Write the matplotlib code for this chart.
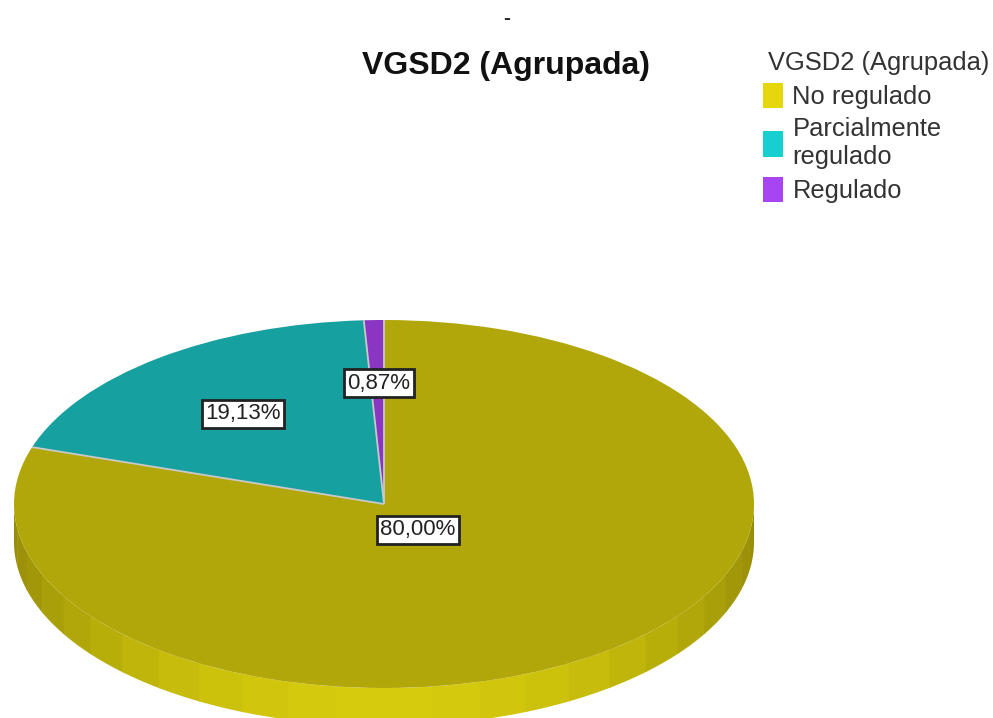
import numpy as np
import matplotlib
matplotlib.use('Agg')
import matplotlib.pyplot as plt
from matplotlib.patches import Patch

plt.rcParams['font.family'] = ['Liberation Sans', 'DejaVu Sans']

# data
title = 'VGSD2 (Agrupada)'
categories = ['No regulado', 'Parcialmente\nregulado', 'Regulado']
values = [80.00, 19.13, 0.87]
value_labels = ['80,00%', '19,13%', '0,87%']
top_colors = ['#b2a70a', '#17a0a0', '#8b36c2']
legend_colors = ['#e6d60c', '#18cfcf', '#a845f2']

W, H = 993, 718
cx, cy, rx, ry = 384, 504, 370, 184
depth = 38 / ry

fig = plt.figure(figsize=(W / 100, H / 100), dpi=100)
ax = fig.add_axes([0, 0, 1, 1])

# pie, squashed to look tilted
wedges, _ = ax.pie(values, startangle=90, counterclock=False, colors=top_colors,
                   wedgeprops=dict(linewidth=0, zorder=3))
ax.set_aspect('auto')
ax.set_xlim(-cx / rx, (W - cx) / rx)
ax.set_ylim((cy - H) / ry, cy / ry)
ax.axis('off')

# light spokes between the slices
for w in wedges:
    t = np.radians(w.theta1)
    ax.plot([0, np.cos(t)], [0, np.sin(t)], color='#c9c9c9', lw=1.3, zorder=4,
            solid_capstyle='butt')

# side of the slab, faceted like the original
dark = np.array([0x96, 0x8c, 0x08]) / 255
bright = np.array([0xd6, 0xcb, 0x0c]) / 255
step = 7.5
for a in np.arange(180, 360, step):
    t = np.radians(np.linspace(a, a + step + 0.3, 8))
    xs = np.cos(t)
    ys = np.sin(t)
    k = np.sin(np.radians(a + step / 2 - 180)) ** 1.5
    ax.fill(np.r_[xs, xs[::-1]], np.r_[ys, ys[::-1] - depth],
            color=dark + (bright - dark) * k, lw=0, zorder=1)

# value labels
label_px = [(418, 530), (243, 414), (379, 383)]
for (px, py), s in zip(label_px, value_labels):
    ax.text((px - cx) / rx, (cy - py) / ry, s, ha='center', va='center', fontsize=16,
            color='#222222', zorder=5,
            bbox=dict(boxstyle='square,pad=0.14', fc='white', ec='#222222', lw=2))

fig.text(506 / W, 1 - 66 / H, title, ha='center', va='center', fontsize=23,
         fontweight='bold', color='#111111')
fig.text(507 / W, 1 - 19 / H, '-', ha='center', va='center', fontsize=15,
         fontweight='bold', color='#222222')

handles = [Patch(facecolor=c, edgecolor='none') for c in legend_colors]
leg = fig.legend(handles, categories, title=title, loc='upper left',
                 bbox_to_anchor=(763 / W, 1 - 51 / H), frameon=False, fontsize=18.4,
                 title_fontsize=18.4, alignment='left', labelcolor='#333333',
                 handlelength=0.8, handleheight=1.15, handletextpad=0.35,
                 labelspacing=0.31, borderpad=0, borderaxespad=0)
leg.get_title().set_color('#333333')
leg.get_title().set_position((5, 0))

fig.savefig('out.png', dpi=100)
